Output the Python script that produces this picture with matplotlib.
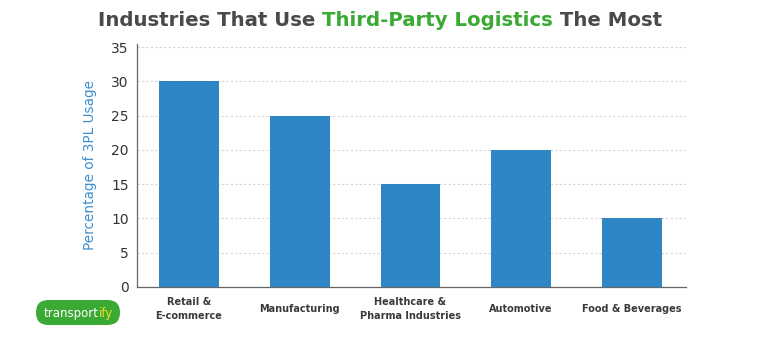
import matplotlib
matplotlib.use("Agg")
import matplotlib.pyplot as plt
from matplotlib.patches import FancyBboxPatch

industries = ["Retail &\nE-commerce", "Manufacturing", "Healthcare &\nPharma Industries",
              "Automotive", "Food & Beverages"]
usage_pct = [30, 25, 15, 20, 10]
y_ticks = [0, 5, 10, 15, 20, 25, 30, 35]

BLUE = "#2f86c4"
GREEN = "#3aaa35"
DARK = "#4a4a4a"

plt.rcParams["font.family"] = ["DejaVu Sans"]

fig = plt.figure(figsize=(7.6, 3.44), dpi=100)
ax = fig.add_axes([137 / 760, 1 - 287 / 344, (686 - 137) / 760, (287 - 44) / 344])

xs = list(range(len(industries)))
ax.bar(xs, usage_pct, width=0.54, color=BLUE, zorder=3)

ax.set_xlim(-0.47, 4.49)
ax.set_ylim(0, 35.45)
ax.set_yticks(y_ticks)
ax.set_yticklabels([str(t) for t in y_ticks], fontsize=10, color="#333333")
ax.set_xticks(xs)
ax.set_xticklabels(industries, fontsize=7, fontweight="bold", color="#3a3a3a",
                   linespacing=1.45)
# center one- and two-line labels on the same baseline band
for lbl in ax.get_xticklabels():
    lbl.set_verticalalignment("center")
ax.tick_params(axis="both", length=0)
ax.tick_params(axis="x", pad=16)
ax.tick_params(axis="y", pad=6)

ax.yaxis.grid(True, linestyle=(0, (2, 2)), color="#d6d6d6", linewidth=0.8, zorder=0)
for side in ["top", "right"]:
    ax.spines[side].set_visible(False)
ax.spines["left"].set_color("#666666")
ax.spines["bottom"].set_color("#666666")
ax.spines["left"].set_linewidth(0.9)
ax.spines["bottom"].set_linewidth(0.9)

ax.set_ylabel("Percentage of 3PL Usage", color="#3d8fd0", fontsize=9.8, labelpad=10)

# title in three colored pieces, placed side by side
title_parts = [("Industries That Use ", DARK), ("Third-Party Logistics", GREEN), (" The Most", DARK)]
fig.canvas.draw()
renderer = fig.canvas.get_renderer()
texts = []
for s, c in title_parts:
    t = fig.text(0, 1 - 20 / 344, s, fontsize=14.2, fontweight="bold", color=c,
                 va="center", ha="left")
    texts.append(t)
widths = [t.get_window_extent(renderer).width / fig.bbox.width for t in texts]
x = 0.5 - sum(widths) / 2
for t, w in zip(texts, widths):
    t.set_x(x)
    x += w

# logo pill with fully rounded ends
aspect = 760 / 344
pill = FancyBboxPatch((36 / 760, 1 - 325 / 344), 84 / 760, 25 / 344,
                      boxstyle="round,pad=0,rounding_size=%f" % (12.5 / 760),
                      mutation_aspect=aspect,
                      transform=fig.transFigure, facecolor=GREEN, edgecolor="none")
fig.patches.append(pill)
lt = fig.text(0, 1 - 313 / 344, "transport", fontsize=8.5, color="white",
              ha="left", va="center")
lt2 = fig.text(0, 1 - 313 / 344, "ify", fontsize=8.5, color="#f2e02a", ha="left", va="center")
w1 = lt.get_window_extent(renderer).width / fig.bbox.width
w2 = lt2.get_window_extent(renderer).width / fig.bbox.width
start = 78 / 760 - (w1 + w2) / 2
lt.set_x(start)
lt2.set_x(start + w1)

fig.savefig("out.png", dpi=100)
